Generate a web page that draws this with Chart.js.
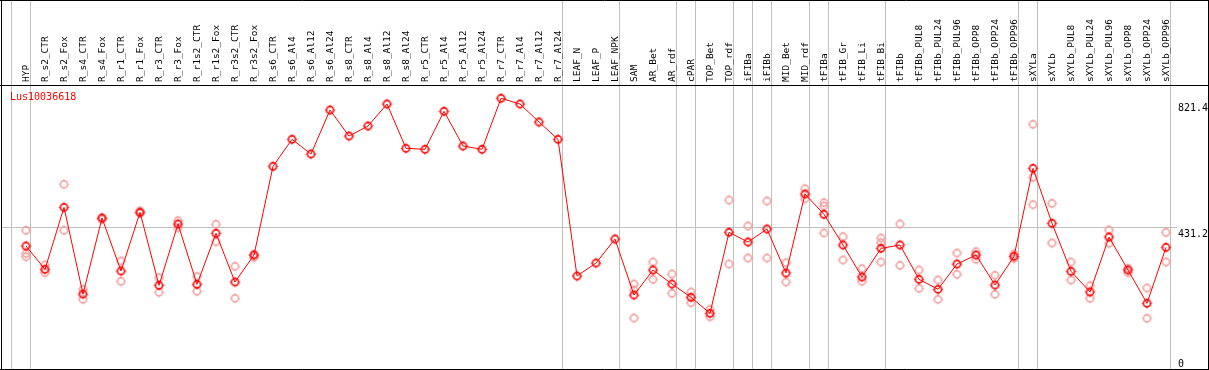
<!DOCTYPE html>
<html>
<head>
<meta charset="utf-8">
<script src="https://cdn.jsdelivr.net/npm/chart.js@4.4.1/dist/chart.umd.min.js"></script>
<style>
html,body{margin:0;padding:0;background:#fff;}
canvas{display:block;}
</style>
</head>
<body>
<canvas id="c" width="1209" height="370"></canvas>
<script>
const geneName = "Lus10036618";
const categories = ["HYP","R_s2_CTR","R_s2_Fox","R_s4_CTR","R_s4_Fox","R_r1_CTR","R_r1_Fox","R_r3_CTR","R_r3_Fox","R_r1s2_CTR","R_r1s2_Fox","R_r3s2_CTR","R_r3s2_Fox","R_s6_CTR","R_s6_Al4","R_s6_Al12","R_s6_Al24","R_s8_CTR","R_s8_Al4","R_s8_Al12","R_s8_Al24","R_r5_CTR","R_r5_Al4","R_r5_Al12","R_r5_Al24","R_r7_CTR","R_r7_Al4","R_r7_Al12","R_r7_Al24","LEAF_N","LEAF_P","LEAF_NPK","SAM","AR_Bet","AR_rdf","cPAR","TOP_Bet","TOP_rdf","iFIBa","iFIBb","MID_Bet","MID_rdf","tFIBa","tFIB_Gr","tFIB_Li","tFIB_Bi","tFIBb","tFIBb_PUL8","tFIBb_PUL24","tFIBb_PUL96","tFIBb_OPP8","tFIBb_OPP24","tFIBb_OPP96","sXYLa","sXYLb","sXYLb_PUL8","sXYLb_PUL24","sXYLb_PUL96","sXYLb_OPP8","sXYLb_OPP24","sXYLb_OPP96"];
const meanValues = [377.0,306.9,493.4,232.5,461.2,301.7,478.3,258.7,443.1,261.7,415.2,268.6,349.9,616.7,697.9,653.7,786.1,707.9,738.0,804.1,670.9,667.9,782.2,677.8,667.9,821.4,804.1,750.0,697.9,286.7,325.8,398.0,229.5,304.8,262.6,222.6,174.5,418.2,389.0,428.1,295.7,533.4,472.3,380.0,283.7,370.0,380.0,276.8,246.7,322.8,349.9,259.6,346.0,610.7,445.2,300.8,238.6,404.0,304.8,204.6,373.0];
const replicateValues = [
  [424.2,355.0,344.8],[319.8,296.6],[562.6,424.2],[246.7,216.6],[461.2,457.3],[331.8,270.8],[482.2,475.3],[281.6,237.7],[453.1,432.0],[284.6,240.7],[442.2,389.9],[315.9,219.6],[352.0,343.0],
  [],[],[],[],[],[],[],[],[],[],[],[],[],[],[],[],[],[],[],
  [262.6,244.6,160.4],[328.8,276.8],[292.7,234.7],[238.6,206.4],[186.5,164.3],[515.3,322.8],[437.1,340.9],[512.3,340.9],[326.7,268.6],[549.3,519.2],[507.2,497.3,416.1],[404.9,334.8],[308.7,270.8],[401.0,386.9,328.8],[443.1,318.9],[304.8,249.7],[274.7,216.6],[355.9,291.8],[359.8,336.9],[288.8,231.6],[352.9,339.3],[743.1,583.6,501.2],[505.4,386.0],[328.8,274.7],[257.5,219.6],[425.1,385.1],[309.9,296.6],[250.6,159.4],[418.2,328.8]
];
const groupEnds = [-1,0,28,31,34,35,37,38,39,41,42,45,52,53,60];
const yTickValues = [0,431.2,821.4];

function makeMarker(color){
  const c=document.createElement('canvas'); c.width=13; c.height=13;
  const g=c.getContext('2d'); g.strokeStyle=color;
  g.lineWidth=1.6; g.beginPath(); g.arc(6.5,6.5,3.6,0,2*Math.PI); g.stroke();
  g.lineWidth=1; g.beginPath();
  g.moveTo(6.5,1.5); g.lineTo(6.5,3); g.moveTo(6.5,10); g.lineTo(6.5,11.5);
  g.moveTo(1.5,6.5); g.lineTo(3,6.5); g.moveTo(10,6.5); g.lineTo(11.5,6.5);
  g.stroke();
  return c;
}
const meanMarker = makeMarker('#ff0000');
const repMarker = makeMarker('#f2a0a0');

const meanData = meanValues.map((v,i)=>({x:i,y:v}));
const repData = [];
replicateValues.forEach((arr,i)=>arr.forEach(v=>repData.push({x:i,y:v})));

const mono = '"DejaVu Sans Mono", "Liberation Mono", monospace';

const decor = {
  id:'decor',
  beforeDatasetsDraw(chart){
    const ctx=chart.ctx, xs=chart.scales.x;
    ctx.save();
    ctx.strokeStyle='#c0c0c0'; ctx.lineWidth=1;
    groupEnds.forEach(i=>{
      const px=Math.round(xs.getPixelForValue(i+0.22))+0.5;
      ctx.beginPath(); ctx.moveTo(px,0); ctx.lineTo(px,370); ctx.stroke();
    });
    ctx.restore();
  },
  afterDraw(chart){
    const ctx=chart.ctx, xs=chart.scales.x, ys=chart.scales.y, a=chart.chartArea;
    ctx.save();
    ctx.strokeStyle='#000'; ctx.lineWidth=1;
    ctx.beginPath();
    ctx.moveTo(0,a.top+0.5); ctx.lineTo(1209,a.top+0.5);
    ctx.moveTo(0,a.bottom+0.5); ctx.lineTo(1209,a.bottom+0.5);
    ctx.moveTo(1.5,0); ctx.lineTo(1.5,370);
    ctx.moveTo(1208.5,0); ctx.lineTo(1208.5,370);
    ctx.moveTo(0,0.5); ctx.lineTo(1209,0.5);
    ctx.stroke();
    ctx.fillStyle='#000'; ctx.font='9.5px '+mono;
    ctx.textAlign='left'; ctx.textBaseline='middle';
    categories.forEach((lab,i)=>{
      const px=xs.getPixelForValue(i);
      ctx.save(); ctx.translate(px+0.5,a.top-3); ctx.rotate(-Math.PI/2);
      ctx.fillText(lab,0,0); ctx.restore();
    });
    ctx.fillStyle='#ff0000'; ctx.font='10px '+mono; ctx.textBaseline='middle';
    ctx.fillText(geneName,10,a.top+12);
    ctx.save();
    ctx.beginPath(); ctx.rect(0,0,1208,370); ctx.clip();
    ctx.fillStyle='#000'; ctx.font='10px '+mono; ctx.textBaseline='top';
    yTickValues.forEach(v=>{
      let py=ys.getPixelForValue(v)+1;
      py=Math.min(Math.max(py,a.top+18),a.bottom-10);
      ctx.fillText(String(v),a.right+1,py);
    });
    ctx.restore();
    ctx.restore();
  }
};

new Chart(document.getElementById('c'),{
  type:'line',
  data:{datasets:[
    {data:meanData,borderColor:'#ff0000',borderWidth:1,pointStyle:meanMarker,pointRadius:5,tension:0,order:1,clip:false},
    {data:repData,showLine:false,pointStyle:repMarker,pointRadius:5,order:2,clip:false}
  ]},
  options:{
    responsive:false,devicePixelRatio:1,animation:false,
    layout:{autoPadding:false,padding:{top:85,left:1,right:1,bottom:1}},
    plugins:{legend:{display:false},tooltip:{enabled:false}},
    scales:{
      x:{type:'linear',display:false,min:-25/19,max:-25/19+1176/19},
      y:{type:'linear',position:'right',min:7,max:861.4,
        afterFit(s){s.width=31;},
        afterBuildTicks(s){s.ticks=yTickValues.map(v=>({value:v}));},
        ticks:{display:false},
        border:{display:false},
        grid:{drawTicks:false,color:c=>c.tick&&c.tick.value===431.2?'#c0c0c0':'rgba(0,0,0,0)'}
      }
    }
  },
  plugins:[decor]
});
</script>
</body>
</html>
